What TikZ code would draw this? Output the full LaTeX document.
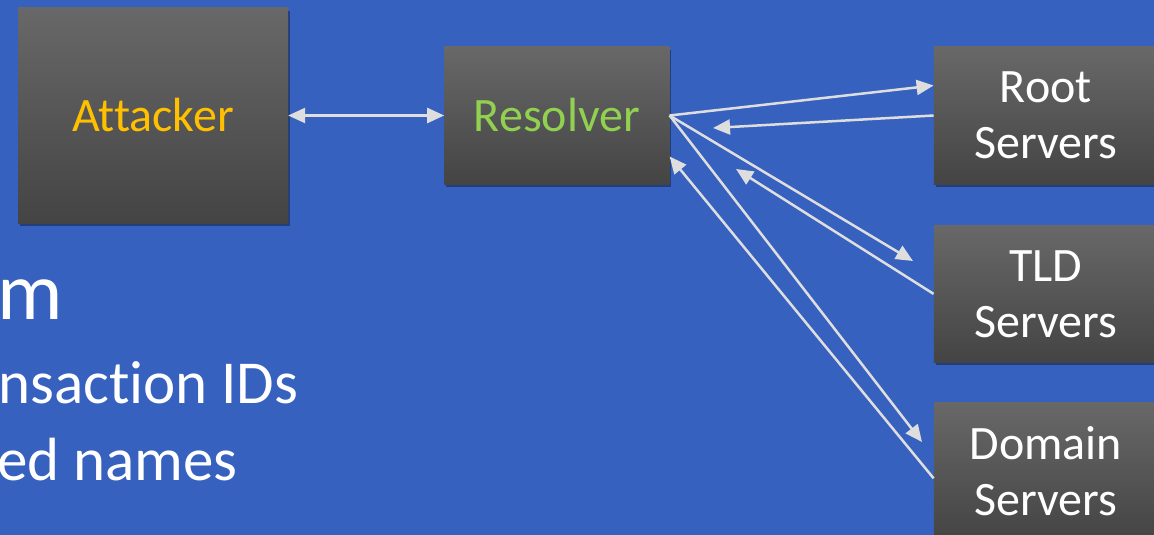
\documentclass[tikz,border=0pt]{standalone}
\usepackage{xcolor}
\usepackage{fontspec}
\setmainfont{Carlito}[RawFeature=-liga]
\usepackage{tikz}
\usetikzlibrary{arrows.meta, positioning, shadows}

\definecolor{slideblue}{RGB}{55,97,190}
\definecolor{boxtop}{RGB}{104,104,104}
\definecolor{boxbot}{RGB}{68,68,68}
\definecolor{linkgray}{RGB}{222,222,222}
\definecolor{attackyellow}{RGB}{255,192,0}
\definecolor{resolvegreen}{RGB}{146,208,80}

\begin{document}
\begin{tikzpicture}[
  x=1pt, y=1pt,
  box/.style={rectangle, top color=boxtop, bottom color=boxbot, draw=none, align=center,
    text=white, font=\fontsize{48}{56}\selectfont, minimum width=225pt, minimum height=137pt,
    drop shadow={shadow xshift=2pt, shadow yshift=-3pt, opacity=0.35, fill=black}},
  tip/.style={Triangle[length=17pt, width=15pt]},
  arrow/.style={-{Triangle[length=17pt, width=15pt]}, line width=2.5pt, draw=linkgray},
  bullet/.style={anchor=base west, inner sep=0pt, text=white, font=\fontsize{61}{70}\selectfont}
]
  \useasboundingbox (0,0) rectangle (1154,-535);
  \clip (0,0) rectangle (1154,-535);
  \fill[slideblue] (0,0) rectangle (1154,-535);

  % left-hand slide text, cut off by the frame
  \node[bullet, font=\fontsize{82}{90}\selectfont] (title) at (-3,-319) {m};
  \node[bullet] (item1) at (-2,-403) {nsaction IDs};
  \node[bullet] (item2) at (-3,-480) {ed names};

  \node[box, minimum width=270pt, minimum height=215pt, text=attackyellow] (attacker) at (153,-115.5) {Attacker};
  \node[box, right=156pt of attacker, text=resolvegreen] (resolver) {Resolver};
  \node[box, right=264pt of resolver, minimum width=224pt] (root) {Root\\Servers};
  \node[box, below=41pt of root, minimum width=224pt] (tld) {TLD\\Servers};
  \node[box, below=40pt of tld, minimum width=224pt] (domain) {Domain\\Servers};

  \coordinate (rootback) at (713,-128);
  \coordinate (tldin) at (913,-261);
  \coordinate (tldback) at (736,-169);
  \coordinate (domainin) at (922,-442);

  \draw[arrow, {Triangle[length=17pt, width=15pt]}-{Triangle[length=17pt, width=15pt]}] (attacker.east) -- (resolver.west);
  \draw[arrow] (resolver.east) -- ([yshift=30pt]root.west);
  \draw[arrow] (root.west) -- (rootback);
  \draw[arrow] (resolver.east) -- (tldin);
  \draw[arrow] (tld.west) -- (tldback);
  \draw[arrow] (resolver.east) -- (domainin);
  \draw[arrow] ([yshift=-7pt]domain.west) -- ([yshift=-41pt]resolver.east);
\end{tikzpicture}
\end{document}
